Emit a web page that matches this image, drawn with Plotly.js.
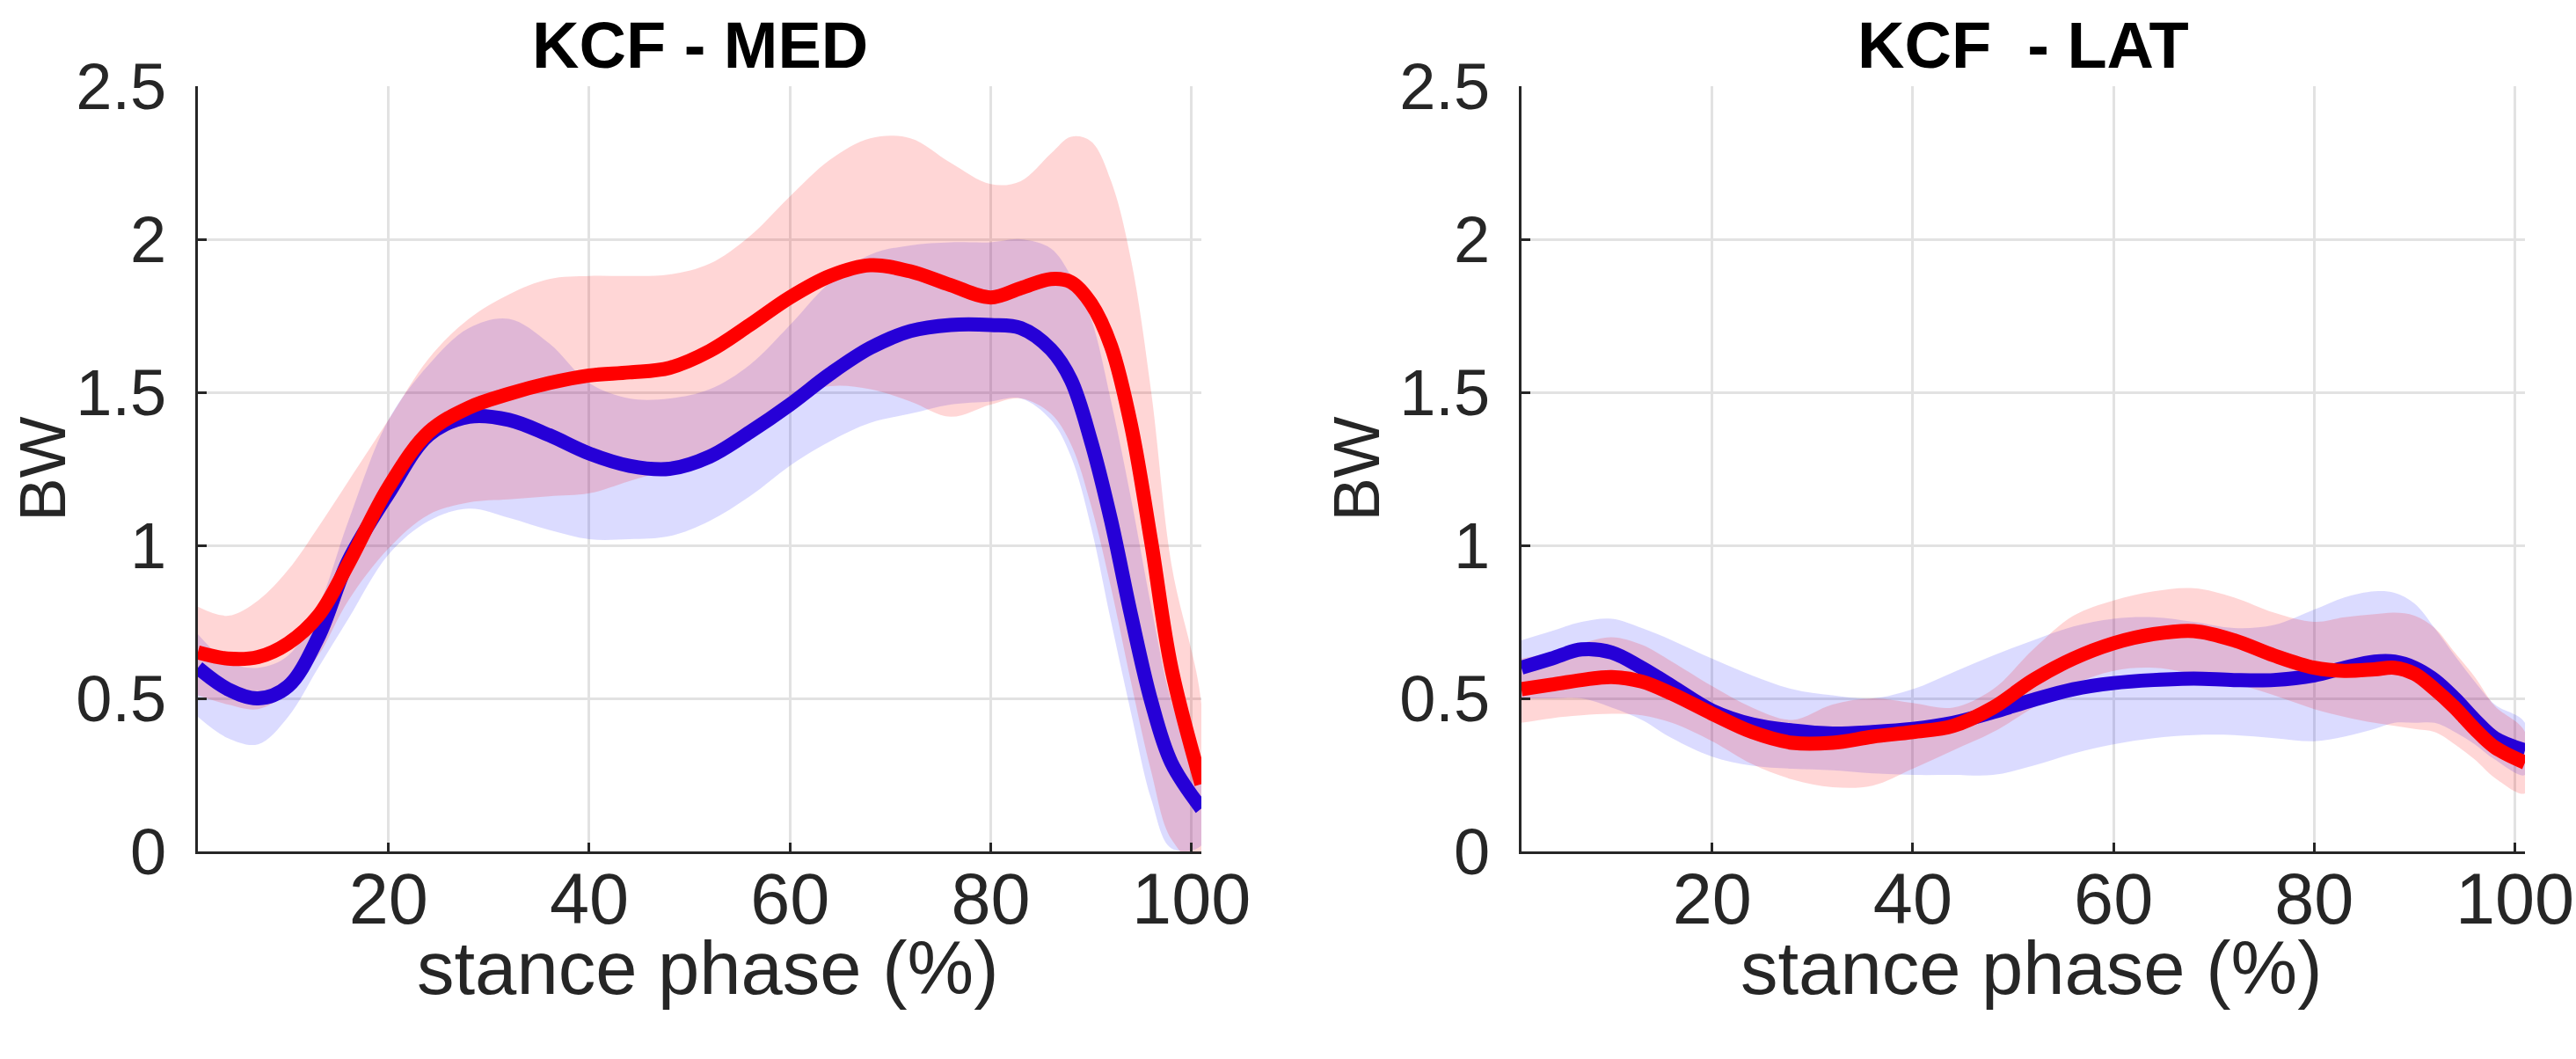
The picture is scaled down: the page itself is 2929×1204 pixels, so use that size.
<!DOCTYPE html>
<html>
<head>
<meta charset="utf-8">
<script src="https://cdn.plot.ly/plotly-3.0.1.min.js"></script>
<style>
  html, body { margin: 0; padding: 0; background: #fff; }
  #kcf { width: 2929px; height: 1204px; }
</style>
</head>
<body>
<div id="kcf"></div>
<script>
// stance phase (%) sample points
var stance = [1, 4, 7, 10, 13, 16, 20, 24, 28, 32, 36, 40, 44, 48, 52, 56, 60, 64, 68, 72, 76, 80, 83, 86, 88, 90, 92, 94, 96, 98, 101];

// KCF - MED, red group
var medRedMean  = [0.65, 0.63, 0.635, 0.68, 0.77, 0.94, 1.19, 1.37, 1.45, 1.495, 1.53, 1.555, 1.565, 1.58, 1.635, 1.72, 1.81, 1.88, 1.915, 1.895, 1.85, 1.81, 1.84, 1.87, 1.86, 1.79, 1.65, 1.39, 1.01, 0.60, 0.22];
var medRedUpper = [0.80, 0.77, 0.82, 0.92, 1.06, 1.21, 1.41, 1.61, 1.74, 1.82, 1.87, 1.88, 1.88, 1.885, 1.92, 2.01, 2.14, 2.26, 2.33, 2.33, 2.25, 2.18, 2.19, 2.28, 2.335, 2.32, 2.19, 1.93, 1.50, 0.94, 0.48];
var medRedLower = [0.51, 0.48, 0.465, 0.52, 0.64, 0.82, 0.99, 1.10, 1.14, 1.15, 1.16, 1.17, 1.21, 1.25, 1.30, 1.39, 1.48, 1.52, 1.51, 1.47, 1.42, 1.46, 1.48, 1.43, 1.33, 1.13, 0.86, 0.55, 0.26, 0.04, -0.05];

// KCF - MED, blue group
var medBlueMean  = [0.60, 0.53, 0.50, 0.54, 0.70, 0.95, 1.17, 1.36, 1.42, 1.41, 1.36, 1.30, 1.26, 1.25, 1.29, 1.37, 1.46, 1.56, 1.645, 1.70, 1.72, 1.72, 1.71, 1.64, 1.54, 1.34, 1.08, 0.77, 0.49, 0.29, 0.14];
var medBlueUpper = [0.71, 0.62, 0.60, 0.64, 0.80, 1.08, 1.41, 1.59, 1.71, 1.74, 1.66, 1.53, 1.48, 1.48, 1.51, 1.59, 1.72, 1.86, 1.95, 1.98, 1.99, 1.99, 2.00, 1.97, 1.88, 1.74, 1.47, 1.15, 0.80, 0.49, 0.22];
var medBlueLower = [0.44, 0.37, 0.35, 0.44, 0.60, 0.76, 0.97, 1.08, 1.12, 1.09, 1.05, 1.02, 1.02, 1.03, 1.08, 1.16, 1.26, 1.34, 1.40, 1.43, 1.46, 1.47, 1.48, 1.41, 1.29, 1.06, 0.75, 0.45, 0.17, 0.01, 0.02];

// KCF - LAT, red group
var latRedMean  = [0.53, 0.545, 0.56, 0.57, 0.555, 0.515, 0.45, 0.39, 0.355, 0.355, 0.375, 0.39, 0.41, 0.47, 0.56, 0.63, 0.68, 0.71, 0.72, 0.69, 0.64, 0.60, 0.59, 0.595, 0.60, 0.58, 0.53, 0.47, 0.40, 0.34, 0.29];
var latRedUpper = [0.63, 0.65, 0.68, 0.70, 0.675, 0.62, 0.54, 0.47, 0.43, 0.48, 0.50, 0.485, 0.47, 0.53, 0.66, 0.77, 0.82, 0.85, 0.86, 0.83, 0.78, 0.75, 0.765, 0.775, 0.78, 0.77, 0.73, 0.65, 0.57, 0.475, 0.39];
var latRedLower = [0.42, 0.435, 0.445, 0.45, 0.445, 0.42, 0.36, 0.285, 0.235, 0.21, 0.215, 0.27, 0.33, 0.39, 0.47, 0.545, 0.59, 0.60, 0.58, 0.55, 0.51, 0.465, 0.44, 0.42, 0.41, 0.40, 0.39, 0.35, 0.30, 0.24, 0.19];

// KCF - LAT, blue group
var latBlueMean  = [0.60, 0.63, 0.66, 0.65, 0.60, 0.54, 0.46, 0.415, 0.395, 0.385, 0.39, 0.40, 0.42, 0.455, 0.495, 0.53, 0.55, 0.56, 0.565, 0.56, 0.56, 0.575, 0.60, 0.62, 0.62, 0.60, 0.56, 0.50, 0.43, 0.37, 0.33];
var latBlueUpper = [0.69, 0.72, 0.75, 0.76, 0.73, 0.69, 0.63, 0.575, 0.53, 0.51, 0.50, 0.53, 0.585, 0.64, 0.69, 0.735, 0.76, 0.765, 0.75, 0.73, 0.74, 0.79, 0.83, 0.85, 0.845, 0.81, 0.73, 0.64, 0.555, 0.48, 0.42];
var latBlueLower = [0.50, 0.50, 0.50, 0.47, 0.43, 0.37, 0.31, 0.28, 0.27, 0.265, 0.255, 0.25, 0.25, 0.25, 0.28, 0.32, 0.35, 0.37, 0.38, 0.38, 0.37, 0.36, 0.375, 0.40, 0.42, 0.42, 0.42, 0.39, 0.35, 0.30, 0.25];

var xTicks = [20, 40, 60, 80, 100];
var panelTitles = ["KCF - MED", "KCF\u00a0 - LAT"];
var xLabel = "stance phase (%)";
var yLabel = "BW";

var RED = "#ff0000";
var BLUE = "#2600d7";
var RED_FILL = "rgba(255,0,0,0.16)";
var BLUE_FILL = "rgba(0,0,255,0.14)";
var FONT = "Liberation Sans, Arial, Helvetica, sans-serif";
var INK = "#262626";

function band(upper, lower, fill, xa, ya) {
  return {
    x: stance.concat(stance.slice().reverse()),
    y: upper.concat(lower.slice().reverse()),
    xaxis: xa, yaxis: ya,
    type: "scatter", mode: "lines",
    fill: "toself", fillcolor: fill,
    line: { width: 0, shape: "spline", smoothing: 1 },
    hoverinfo: "skip", showlegend: false
  };
}

function curve(y, color, xa, ya) {
  return {
    x: stance, y: y,
    xaxis: xa, yaxis: ya,
    type: "scatter", mode: "lines",
    line: { color: color, width: 16, shape: "spline", smoothing: 1 },
    showlegend: false
  };
}

var data = [
  band(medBlueUpper, medBlueLower, BLUE_FILL, "x", "y"),
  band(medRedUpper, medRedLower, RED_FILL, "x", "y"),
  curve(medBlueMean, BLUE, "x", "y"),
  curve(medRedMean, RED, "x", "y"),
  band(latBlueUpper, latBlueLower, BLUE_FILL, "x2", "y2"),
  band(latRedUpper, latRedLower, RED_FILL, "x2", "y2"),
  curve(latBlueMean, BLUE, "x2", "y2"),
  curve(latRedMean, RED, "x2", "y2")
];

function xax(domain, anchor) {
  return {
    domain: domain, anchor: anchor,
    range: [1, 101], tickvals: xTicks,
    ticks: "inside", ticklen: 10, tickwidth: 3, tickcolor: INK,
    showline: true, linecolor: INK, linewidth: 3,
    showgrid: true, gridcolor: "#e2e2e2", gridwidth: 3,
    zeroline: false, ticklabelstandoff: -18,
    tickfont: { family: FONT, size: 81, color: INK }
  };
}

function yax(anchor) {
  return {
    domain: [0.196, 0.9186], anchor: anchor,
    range: [0, 2.5], dtick: 0.5, tick0: 0,
    ticks: "inside", ticklen: 10, tickwidth: 3, tickcolor: INK,
    showline: true, linecolor: INK, linewidth: 3,
    showgrid: true, gridcolor: "#e2e2e2", gridwidth: 3,
    zeroline: false, ticklabelstandoff: 18,
    tickfont: { family: FONT, size: 74, color: INK }
  };
}

var titleX = [0.2716, 0.7854];
var xLabelX = [0.2748, 0.7885];
var yLabelX = [0.0165, 0.5265];
var annotations = [];
for (var i = 0; i < 2; i++) {
  annotations.push({
    text: "<b>" + panelTitles[i] + "</b>", xref: "paper", yref: "paper",
    x: titleX[i], y: 0.957, xanchor: "center", yanchor: "middle",
    showarrow: false, font: { family: FONT, size: 74, color: "#000" }
  });
  annotations.push({
    text: xLabel, xref: "paper", yref: "paper",
    x: xLabelX[i], y: 0.086, xanchor: "center", yanchor: "middle",
    showarrow: false, font: { family: FONT, size: 85, color: INK }
  });
  annotations.push({
    text: yLabel, xref: "paper", yref: "paper", textangle: -90,
    x: yLabelX[i], y: 0.557, xanchor: "center", yanchor: "middle",
    showarrow: false, font: { family: FONT, size: 74, color: INK }
  });
}

var layout = {
  width: 2929, height: 1204,
  margin: { t: 0, b: 0, l: 0, r: 0 },
  paper_bgcolor: "#fff", plot_bgcolor: "#fff",
  showlegend: false,
  xaxis: xax([0.0768, 0.4664], "y"),
  yaxis: yax("x"),
  xaxis2: xax([0.5906, 0.9802], "y2"),
  yaxis2: yax("x2"),
  annotations: annotations
};

Plotly.newPlot("kcf", data, layout, { staticPlot: true });
</script>
</body>
</html>
